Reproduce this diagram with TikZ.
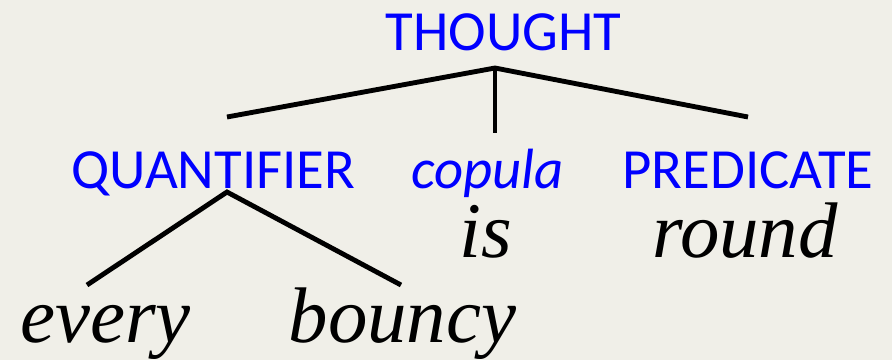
\documentclass[tikz,border=0pt]{standalone}
\usepackage{fontspec}
\newfontfamily\catfont{Carlito}
\newfontfamily\wordfont{Liberation Serif}
\usepackage{tikz}
\definecolor{paper}{RGB}{240,239,232}
\tikzset{
  cat/.style={inner sep=0pt,anchor=base,text=blue,font=\catfont\fontsize{58.3}{60}\selectfont},
  catit/.style={cat,font=\catfont\itshape\fontsize{58.3}{60}\selectfont},
  word/.style={inner sep=0pt,anchor=base,font=\wordfont\itshape\fontsize{81}{84}\selectfont},
  branch/.style={line width=5pt}
}
\begin{document}
\begin{tikzpicture}[x=0.03611cm,y=-0.03611cm]
\fill[paper] (0,0) rectangle (892,360);
\useasboundingbox (0,0) rectangle (892,360);
% category labels
\node[cat] (thought) at (503.5,50) {THOUGHT};
\node[cat] (quant) at (213.5,188) {QUANTIFIER};
\node[catit] (copula) at (487.5,188) {copula};
\node[cat] (pred) at (748,188) {PREDICATE};
% words
\node[word] (is) at (486,257) {is};
\node[word] (round) at (745,257) {round};
\node[word] (every) at (105.5,342) {every};
\node[word] (bouncy) at (402.5,342) {bouncy};
% branch points
\coordinate (thtop) at (495,68);
\coordinate (thleft) at (227,117);
\coordinate (thmid) at (495,133);
\coordinate (thright) at (748,117);
\coordinate (qtop) at (227,192);
\coordinate (qleft) at (87,285);
\coordinate (qright) at (401,285);
\draw[branch] (thleft) -- (thtop) -- (thright);
\draw[branch] (thtop) -- (thmid);
\draw[branch] (qleft) -- (qtop) -- (qright);
\end{tikzpicture}
\end{document}
